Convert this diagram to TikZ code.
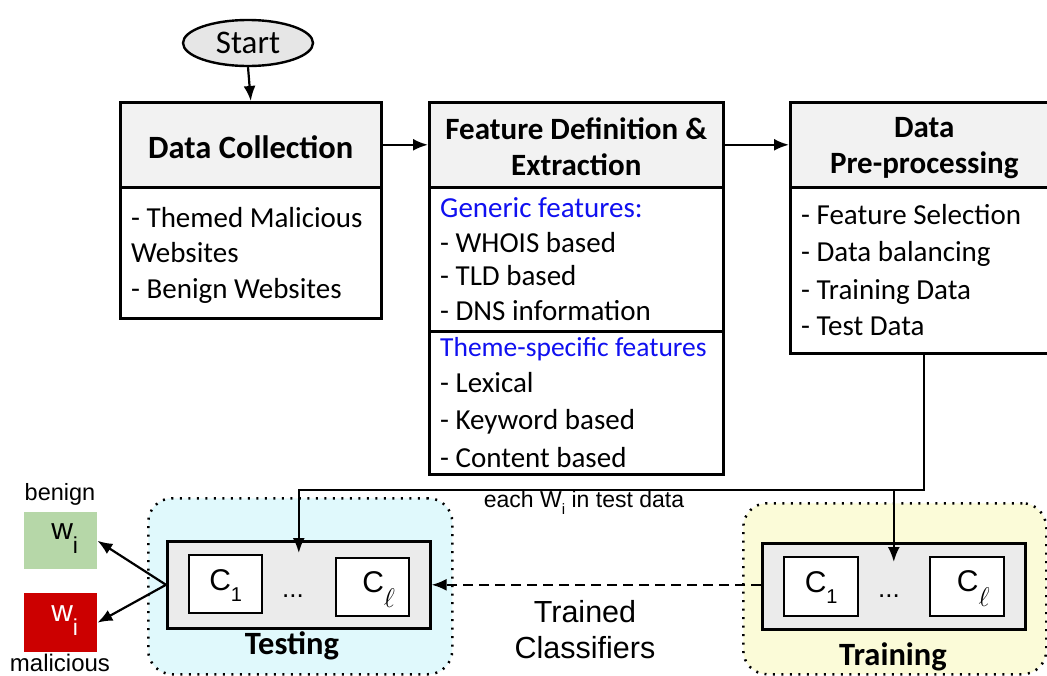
\documentclass[tikz,border=0pt]{standalone}
\usepackage{fontspec}
\setmainfont{Carlito}
\newfontfamily\arial{Liberation Sans}
\usetikzlibrary{arrows.meta,shapes.geometric,calc}

\definecolor{headgray}{HTML}{F2F2F2}
\definecolor{startgray}{HTML}{E6E6E6}
\definecolor{clsgray}{HTML}{EBEBEB}
\definecolor{testcyan}{HTML}{E0F9FC}
\definecolor{trainyellow}{HTML}{FBFBD8}
\definecolor{benigngreen}{HTML}{B6D7A8}
\definecolor{malred}{HTML}{CC0000}
\definecolor{featblue}{HTML}{1010F0}

\tikzset{
  box/.style={draw, line width=2.6pt, rectangle, inner sep=0pt, anchor=north west},
  headbox/.style={box, fill=headgray},
  bodybox/.style={box, fill=white},
  headtext/.style={font=\fontsize{31}{36}\selectfont\bfseries, align=center, inner sep=0pt},
  itemtext/.style={font=\fontsize{29}{32}\selectfont, anchor=base west, inner sep=0pt},
  bluetext/.style={itemtext, text=featblue},
  arr/.style={line width=2.2pt, -{Latex[length=15pt,width=12pt]}},
  group/.style={draw, line width=2.5pt, dash pattern=on 2pt off 6.5pt, rounded corners=24pt, anchor=north west, inner sep=0pt},
  clsbox/.style={box, fill=clsgray},
  cbox/.style={box, fill=white, line width=2.4pt},
  ctext/.style={font=\arial\fontsize{30}{30}\selectfont, inner sep=0pt},
  grplbl/.style={font=\fontsize{32.5}{32.5}\selectfont\bfseries, inner sep=0pt},
  lbl/.style={font=\arial\fontsize{23.5}{23.5}\selectfont, inner sep=0pt},
  wbox/.style={rectangle, anchor=north west, inner sep=0pt, minimum width=73pt},
}

\newcommand{\Cone}{C\raisebox{-11pt}{\fontsize{20}{20}\selectfont 1}}
\newcommand{\Cell}{C\raisebox{-15pt}{\scalebox{1.3}{\fontsize{20}{20}\selectfont$\ell$}}}
\newcommand{\wsub}{w\raisebox{-14pt}{\fontsize{23}{23}\selectfont i}}

\begin{document}
\begin{tikzpicture}[x=1pt,y=-1pt]
\useasboundingbox (0,0) rectangle (1047,675);
\clip (0,0) rectangle (1047,675);

% ---- start ----
\node[ellipse, draw, line width=2.4pt, fill=startgray, minimum width=130pt, minimum height=46pt,
      font=\fontsize{33}{33}\selectfont, inner sep=0pt] (start) at (248,43) {Start};

% ---- data collection ----
\node[headbox, minimum width=261pt, minimum height=85pt] (dchead) at (119,101) {};
\node[headtext, font=\fontsize{32.5}{36}\selectfont\bfseries] (dctitle) at ($(dchead.center)+(0,2)$) {Data Collection};
\node[bodybox, minimum width=261pt, minimum height=131pt] (dcbody) at (119,186) {};
\foreach \t [count=\i] in {- Themed Malicious, Websites, - Benign Websites}
  \node[itemtext] (dcl\i) at (131,{227+35.5*(\i-1)}) {\t};

% ---- feature definition ----
\node[headbox, minimum width=294pt, minimum height=85pt] (fdhead) at (428,101) {};
\node[headtext] (fdtitle) at ($(fdhead.center)+(0,2)$) {Feature Definition \&\\Extraction};
\node[bodybox, minimum width=294pt, minimum height=144pt] (fdbody) at (428,186) {};
\node[bodybox, minimum width=294pt, minimum height=143pt] (fdbodyb) at (428,330) {};
\node[bluetext] (fdg) at (440,217) {Generic features:};
\foreach \t/\y [count=\i] in {- WHOIS based/252, - TLD based/285, - DNS information/320}
  \node[itemtext] (fdga\i) at (440,\y) {\t};
\node[bluetext, font=\fontsize{27.5}{32}\selectfont] (fdt) at (440,356) {Theme-specific features};
\foreach \t/\y [count=\i] in {- Lexical/392, - Keyword based/429, - Content based/467}
  \node[itemtext] (fdtb\i) at (440,\y) {\t};

% ---- data pre-processing ----
\node[headbox, minimum width=268pt, minimum height=85pt] (dphead) at (789,101) {};
\node[headtext] (dptitle) at ($(dphead.center)+(0,3)$) {Data\\Pre-processing};
\node[bodybox, minimum width=268pt, minimum height=166pt] (dpbody) at (789,186) {};
\foreach \t/\y [count=\i] in {- Feature Selection/224, - Data balancing/261, - Training Data/299, - Test Data/335}
  \node[itemtext] (dpl\i) at (801,\y) {\t};

% ---- testing group ----
\node[group, fill=testcyan, minimum width=304pt, minimum height=176pt] (testgrp) at (147,497) {};
\node[clsbox, minimum width=263pt, minimum height=87pt] (testin) at (166,540) {};
\node[cbox, minimum width=73pt, minimum height=58pt] (tc1) at (188,554) {};
\node[cbox, minimum width=73pt, minimum height=58pt] (tcl) at (335,557) {};
\node[ctext] (tc1t) at ($(tc1.center)+(0,1)$) {\Cone};
\node[ctext] (tclt) at ($(tcl.center)+(6,2)$) {\Cell};
\node[ctext, font=\arial\fontsize{26}{26}\selectfont, anchor=base] (tdots) at (293,597) {...};
\node[grplbl] (testlbl) at (292,646) {Testing};

% ---- training group ----
\node[group, fill=trainyellow, minimum width=303pt, minimum height=171pt] (traingrp) at (742,502) {};
\node[clsbox, minimum width=263pt, minimum height=86pt] (trainin) at (761,542) {};
\node[cbox, minimum width=74pt, minimum height=59pt] (rc1) at (783,556) {};
\node[cbox, minimum width=74pt, minimum height=59pt] (rcl) at (929,556) {};
\node[ctext] (rc1t) at ($(rc1.center)+(0,1)$) {\Cone};
\node[ctext] (rclt) at ($(rcl.center)+(6,2)$) {\Cell};
\node[ctext, font=\arial\fontsize{26}{26}\selectfont, anchor=base] (rdots) at (889,597) {...};
\node[grplbl] (trainlbl) at (893,657) {Training};

% ---- results ----
\node[wbox, fill=benigngreen, minimum height=57pt] (benign) at (24,512) {};
\node[ctext] (benignw) at ($(benign.center)+(4,-2)$) {\wsub};
\node[lbl] (benignlbl) at (60,494) {benign};
\node[wbox, fill=malred, minimum height=59pt] (malicious) at (24,593) {};
\node[ctext, text=white] (maliciousw) at ($(malicious.center)+(4,-2)$) {\wsub};
\node[lbl, font=\arial\fontsize{24}{24}\selectfont] (maliciouslbl) at (60,663) {malicious};

% ---- labels ----
\node[font=\arial\fontsize{23}{23}\selectfont, inner sep=0pt] (eachlbl) at (584,503)
  {each W\raisebox{-7pt}{\fontsize{15}{15}\selectfont i} in test data};
\node[font=\arial\fontsize{30.5}{36}\selectfont, align=center, inner sep=0pt] (trainedlbl) at (585,630)
  {Trained\\Classifiers};

% ---- connectors ----
\draw[arr] (start.south) -- (dchead.north);
\draw[arr] (dchead.east) -- (fdhead.west);
\draw[arr] (fdhead.east) -- (dphead.west);
\coordinate (junc) at ($(dpbody.south)+(0,135)$);
\draw[arr, shorten >=-13pt] (dpbody.south) -- (junc) -| (testin.north);
\draw[arr, shorten >=-20pt] (junc -| trainin.north) -- (trainin.north);
\draw[arr, dash pattern=on 10pt off 6pt] (trainin.west |- testin.east) -- (testin.east);
\draw[arr] (testin.west) -- (benign.east);
\draw[arr] (testin.west) -- (malicious.east);
\end{tikzpicture}
\end{document}
